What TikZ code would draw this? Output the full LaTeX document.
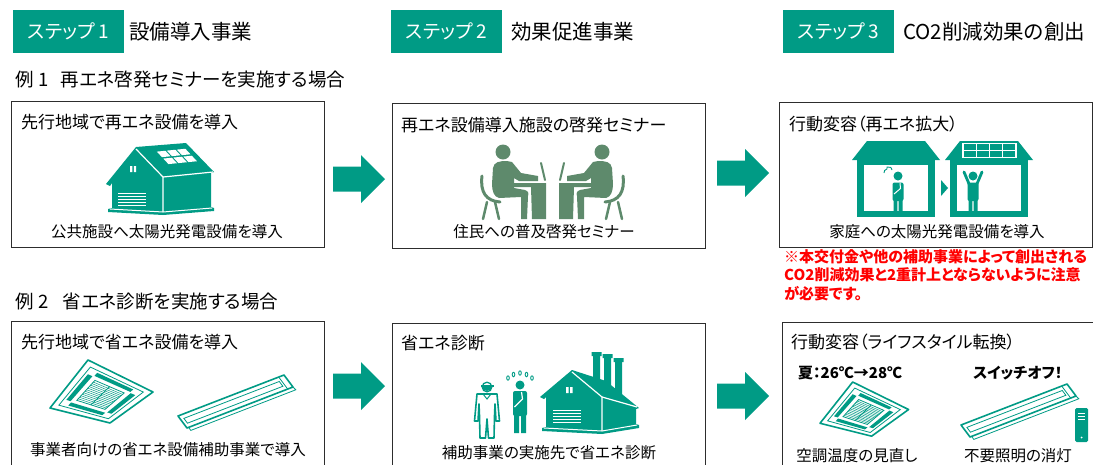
\documentclass[tikz,border=0pt]{standalone}
\usepackage{fontspec}
\setmainfont{Noto Sans CJK JP}[RawFeature=+palt]
\usetikzlibrary{calc}
\definecolor{brandteal}{RGB}{0,155,133}
\definecolor{seminargreen}{RGB}{94,138,108}
\definecolor{framegray}{RGB}{45,45,45}
\definecolor{notered}{RGB}{255,0,0}
\newcommand\fStep{\fontsize{19}{22}\selectfont}
\newcommand\fHead{\fontsize{20.5}{24}\selectfont}
\newcommand\fEx{\fontsize{18.5}{22}\selectfont}
\newcommand\fTitle{\fontsize{17}{20}\selectfont}
\newcommand\fCap{\fontsize{15.5}{18}\selectfont}
\newcommand\fNote{\fontsize{15}{18.5}\selectfont\bfseries}
\newcommand\fBold{\fontsize{15}{18}\selectfont\bfseries}

% block arrow: tail at (#1,#2)
\newcommand\blockarrow[2]{%
  \fill[brandteal] (#1,#2-12.5) -- (#1+28,#2-12.5) -- (#1+28,#2-24) -- (#1+52,#2)
    -- (#1+28,#2+24) -- (#1+28,#2+12.5) -- (#1,#2+12.5) -- cycle;}

% points and patches on the perspective panel of the air conditioner
\newcommand\acp[2]{({qx(#1,#2)},{qy(#1,#2)})}
\newcommand\acq[4]{({qx(#1,#2)},{qy(#1,#2)}) -- ({qx(#3,#2)},{qy(#3,#2)})
  -- ({qx(#3,#4)},{qy(#3,#4)}) -- ({qx(#1,#4)},{qy(#1,#4)}) -- cycle}

% ceiling cassette air conditioner, top-left at (#1,#2), scale #3
\newcommand\acunit[3]{%
  \begin{scope}[shift={(#1,#2)}, scale=#3]
    \filldraw[fill=white, draw=brandteal, line width=1.6pt, line join=round] \acq{0}{0}{1}{1};
    \draw[brandteal, line width=0.8pt] \acq{0.09}{0.09}{0.91}{0.91};
    \fill[brandteal] \acq{0.22}{0.13}{0.78}{0.2};
    \fill[brandteal] \acq{0.22}{0.8}{0.78}{0.87};
    \fill[brandteal] \acq{0.13}{0.22}{0.2}{0.78};
    \fill[brandteal] \acq{0.8}{0.22}{0.87}{0.78};
    \draw[brandteal, line width=0.8pt] \acq{0.27}{0.27}{0.73}{0.73};
    \foreach \t in {0.305,0.34,...,0.71}
      \draw[brandteal, line width=0.5pt] \acp{\t}{0.27} -- \acp{\t}{0.73};
    \draw[brandteal, line width=0.8pt] \acp{0.27}{0.5} -- \acp{0.73}{0.5};
  \end{scope}}

% long ceiling light, top-left at (#1,#2), scale #3
\newcommand\lightbar[3]{%
  \begin{scope}[shift={(#1,#2)}, scale=#3]
    \begin{scope}[shift={(0,48)}, x={(106pt,41pt)}, y={(9pt,-12pt)}]
      \filldraw[fill=white, draw=brandteal, line width=1.6pt, line join=round]
        (0,0) -- (1,0) -- (1,1) -- (0,1) -- cycle;
      \draw[brandteal, line width=0.8pt] (0.03,0.3) -- (0.93,0.3) -- (0.93,0.7) -- (0.03,0.7) -- cycle;
      \draw[brandteal, line width=0.8pt] (0.95,0) -- (0.95,1);
      \draw[brandteal, line width=0.8pt] (0.015,1) -- (0.015,1.25) -- (1.005,1.25) -- (1,1);
    \end{scope}
  \end{scope}}

% one person at a desk with a laptop (facing right)
\newcommand\seminarside{%
  \fill (503,152) circle (7.5);
  \fill (492,184) -- (493,168) .. controls (494,162) and (499,161) .. (507,161) -- (512,162)
    -- (521,173) -- (538,176) -- (538,181) -- (519,181) -- (514,178) -- (514,188) -- (525,190)
    .. controls (528,191) and (529,193) .. (528,196) -- (527,219) -- (521,219) -- (521,197)
    -- (499,198) .. controls (494,197) and (492,191) .. (492,184) -- cycle;
  \draw[line width=3pt, line cap=round] (482,176) .. controls (480,192) and (486,201) .. (500,202);
  \draw[line width=2.5pt, line cap=round] (487,202) -- (483,219) (495,202) -- (499,219);
  \fill (508,183) -- (546,183) -- (546,219) -- (532,219) -- (531,187) -- (508,187) -- cycle;
  \draw[line width=2pt, line cap=round] (541,163) -- (545,180);}

\begin{document}
\begin{tikzpicture}[x=1pt, y=-1pt,
  declare function={
    qx(\u,\v)=\u*(1-\v)*38 + \u*\v*103 + (1-\u)*\v*60;
    qy(\u,\v)=(1-\u)*(1-\v)*48 + \u*\v*32 + (1-\u)*\v*63;},
  stepbox/.style={fill=brandteal, text=white, minimum width=111pt, minimum height=43pt,
    inner sep=0pt, anchor=north west, font=\fStep},
  heading/.style={anchor=west, inner sep=0pt, font=\fHead},
  example/.style={anchor=west, inner sep=0pt, font=\fEx},
  panel/.style={draw=framegray, line width=1.3pt, anchor=north west, inner sep=0pt,
    minimum width=313pt},
  paneltitle/.style={anchor=west, inner sep=0pt, font=\fTitle},
  caption/.style={inner sep=0pt, font=\fCap},
  boldlabel/.style={anchor=west, inner sep=0pt, font=\fBold}]
\useasboundingbox (0,0) rectangle (1093,464);
\clip (0,0) rectangle (1093,464);

% step headers
\node[stepbox] (s1) at (13,10) {ステップ 1};
\node[stepbox] (s2) at (391,10) {ステップ 2};
\node[stepbox] (s3) at (783,10) {ステップ 3};
\node[heading] (h1) at (129,32) {設備導入事業};
\node[heading] (h2) at (511,32) {効果促進事業};
\node[heading] (h3) at (903,32) {CO2削減効果の創出};

% example 1
\node[example] (ex1) at (15,80) {例\hspace{5pt}1\hspace{12pt}再エネ啓発セミナーを実施する場合};
\node[panel, minimum height=146pt] (pa) at (11,101) {};
\node[panel, minimum height=145pt] (pb) at (392,103) {};
\node[panel, minimum height=145pt] (pc) at (779,102) {};
\node[paneltitle] (ta) at ($(pa.north west)+(10,21)$) {先行地域で再エネ設備を導入};
\node[paneltitle] (tb) at ($(pb.north west)+(9,22)$) {再エネ設備導入施設の啓発セミナー};
\node[paneltitle] (tc) at ($(pc.north west)+(10,22)$) {行動変容（再エネ拡大）};
\node[caption] (ca) at (167,232) {公共施設へ太陽光発電設備を導入};
\node[caption] (cb) at (544,232) {住民への普及啓発セミナー};
\node[caption] (cc) at (937,232) {家庭への太陽光発電設備を導入};
\node[anchor=north west, inner sep=0pt, align=left, text=notered, font=\fNote] (note) at (784,249)
  {※本交付金や他の補助事業によって創出される\\CO2削減効果と2重計上とならないように注意\\が必要です。};

\blockarrow{333}{179}
\blockarrow{717}{173}

% public facility with solar panels
\fill[brandteal] (136,147) -- (106,184) -- (110,186) -- (112,183) -- (112,208) -- (108,209)
  -- (108,212) -- (163,215) -- (214,211) -- (214,208) -- (211,207) -- (211,173) -- (214,172)
  -- (186,143) -- cycle;
\draw[white, line width=1.2pt] (136,149) -- (163,177) -- (163,212);
\draw[white, line width=1.2pt] (163,177) -- (213,172);
\draw[white, line width=1pt] (110,209) -- (163,212) -- (212,208);
\begin{scope}[shift={(136,148)}, x={(50pt,5pt)}, y={(27pt,-29pt)}]
  \foreach \i in {0,1,2} \foreach \j in {0,1}
    \fill[white] (0.32+\i*0.2,0.18+\j*0.24) -- (0.49+\i*0.2,0.18+\j*0.24)
      -- (0.49+\i*0.2,0.37+\j*0.24) -- (0.32+\i*0.2,0.37+\j*0.24) -- cycle;
\end{scope}
\fill[white] (130,166) rectangle (132.3,172) (133.8,166) rectangle (136,172);
\foreach \k in {0,...,4} \fill[white] (118,193+\k*3) rectangle (146,194.4+\k*3);

% seminar figures
\begin{scope}[color=seminargreen]
  \seminarside
\end{scope}
\begin{scope}[shift={(1105,0)}, xscale=-1, color=seminargreen]
  \seminarside
\end{scope}

% homes before and after
\fill[brandteal] (852,160) -- (867,141) -- (925,141) -- (940,160) -- cycle;
\fill[brandteal] (857,158) rectangle (935,217);
\fill[white] (864,165) rectangle (928,211);
\fill[brandteal] (945,160) -- (960,141) -- (1018,141) -- (1033,160) -- cycle;
\fill[brandteal] (950,158) rectangle (1028,217);
\fill[white] (957,165) rectangle (1021,211);
\draw[white, line width=1.2pt] (963,143.5) rectangle (1016,157.5)
  (976.25,143.5) -- (976.25,157.5) (989.5,143.5) -- (989.5,157.5) (1002.75,143.5) -- (1002.75,157.5)
  (963,150.5) -- (1016,150.5);
\fill[brandteal] (941,180) -- (948,188) -- (941,196) -- cycle;
% worried resident
\fill[brandteal] (898,176) circle (4.5);
\fill[brandteal, rounded corners=2pt] (892.5,182.5) rectangle (903.5,201);
\fill[brandteal] (893.5,199) rectangle (897.3,212) (898.7,199) rectangle (902.5,212);
\draw[white, line width=1pt] (894,194) -- (900.5,188.5) -- (900,183);
\draw[brandteal, line width=0.9pt] (884,173) .. controls (884,168) and (888,171) .. (887,167)
  .. controls (890,168) and (891,166) .. (892,170);
% happy resident
\fill[brandteal] (973,176) circle (4.5);
\fill[brandteal, rounded corners=2pt] (967.5,182.5) rectangle (978.5,201);
\fill[brandteal] (968.5,199) rectangle (972.3,212) (973.7,199) rectangle (977.5,212);
\draw[brandteal, line width=2.8pt, line cap=round] (969.5,185) -- (964,172) (976.5,185) -- (982,172);

% example 2
\node[example] (ex2) at (15,302) {例\hspace{5pt}2\hspace{14pt}省エネ診断を実施する場合};
\node[panel, minimum height=160pt] (pd) at (11,321) {};
\node[panel, minimum height=160pt] (pe) at (392,323) {};
\node[panel, minimum height=160pt, minimum width=330pt] (pf) at (782,322) {};
\node[paneltitle] (td) at ($(pd.north west)+(10,21)$) {先行地域で省エネ設備を導入};
\node[paneltitle] (te) at ($(pe.north west)+(9,20)$) {省エネ診断};
\node[paneltitle] (tf) at ($(pf.north west)+(9,20)$) {行動変容（ライフスタイル転換）};
\node[caption] (cd) at (168,450) {事業者向けの省エネ設備補助事業で導入};
\node[caption] (ce) at (549,453) {補助事業の実施先で省エネ診断};
\node[caption] (cf1) at (857,456) {空調温度の見直し};
\node[caption] (cf2) at (1018,456) {不要照明の消灯};
\node[boldlabel] (lf1) at (798,373) {夏：26℃→28℃};
\node[boldlabel] (lf2) at (973,373) {スイッチオフ！};

\blockarrow{333}{386}
\blockarrow{717}{396}

\acunit{50}{360}{1}
\lightbar{178}{368}{1}
\acunit{820}{382}{0.86}
\lightbar{961}{377}{1}

% wall switch
\fill[brandteal, rounded corners=1.5pt] (1075,408) rectangle (1088,442);
\draw[white, line width=0.9pt] (1078,413) -- (1085,413) (1078,416) -- (1085,416) (1078,419) -- (1085,419);
\fill[white] (1081.5,437.5) circle (1);

% energy auditor
\filldraw[fill=white, draw=brandteal, line width=1.3pt] (487,387) circle (4.8);
\fill[brandteal] (482,386) arc[start angle=180, end angle=0, radius=5] -- cycle;
\draw[brandteal, line width=1.2pt] (481,386) -- (494,386);
\filldraw[fill=white, draw=brandteal, line width=1.6pt, line join=round]
  (477,394) -- (497,394) -- (499.5,421) -- (496,421) -- (495,404) -- (494.5,416) -- (494,438)
  -- (488.5,438) -- (487,419) -- (485.5,438) -- (480,438) -- (479.5,416) -- (479,404)
  -- (478,421) -- (474.5,421) -- cycle;
\draw[brandteal, line width=1pt] (483,394) -- (487,399) -- (491,394);
% thinking manager
\fill[brandteal] (520,385) circle (4.5);
\fill[brandteal, rounded corners=2pt] (513,391) rectangle (527,416);
\fill[brandteal] (514,414) rectangle (519,433) (521,414) rectangle (526,433);
\draw[white, line width=1.2pt] (514.5,407) -- (522.5,399) -- (521.5,392);
\foreach \px/\py in {508/378, 513.5/374.5, 520/373, 526.5/374.5, 532/378}
  \draw[brandteal, line width=0.9pt] (\px,\py) ellipse (1.3 and 2.2);

% factory
\fill[brandteal] (593,355) rectangle (600,392) (604,357) rectangle (611,395) (615,361) rectangle (622,399);
\fill[brandteal] (591.5,352) rectangle (601.5,356) (602.5,354) rectangle (612.5,358) (613.5,358) rectangle (623.5,362);
\fill[brandteal] (572,370) -- (540,397) -- (544,399) -- (546,397) -- (546,427) -- (542,428)
  -- (542,431) -- (602,434) -- (639,428) -- (639,425) -- (636,424) -- (636,409) -- (639,408)
  -- (606,381) -- cycle;
\draw[white, line width=1.2pt] (572,372) -- (602,397) -- (602,431);
\draw[white, line width=1.2pt] (602,397) -- (637,407);
\draw[white, line width=1pt] (544,428) -- (602,431) -- (637,425);
\fill[white] (566,387) rectangle (568.5,393) (570,387) rectangle (572.5,393);
\foreach \k in {0,...,4} \fill[white] (553,410+\k*3) rectangle (581,411.4+\k*3);
\end{tikzpicture}
\end{document}
